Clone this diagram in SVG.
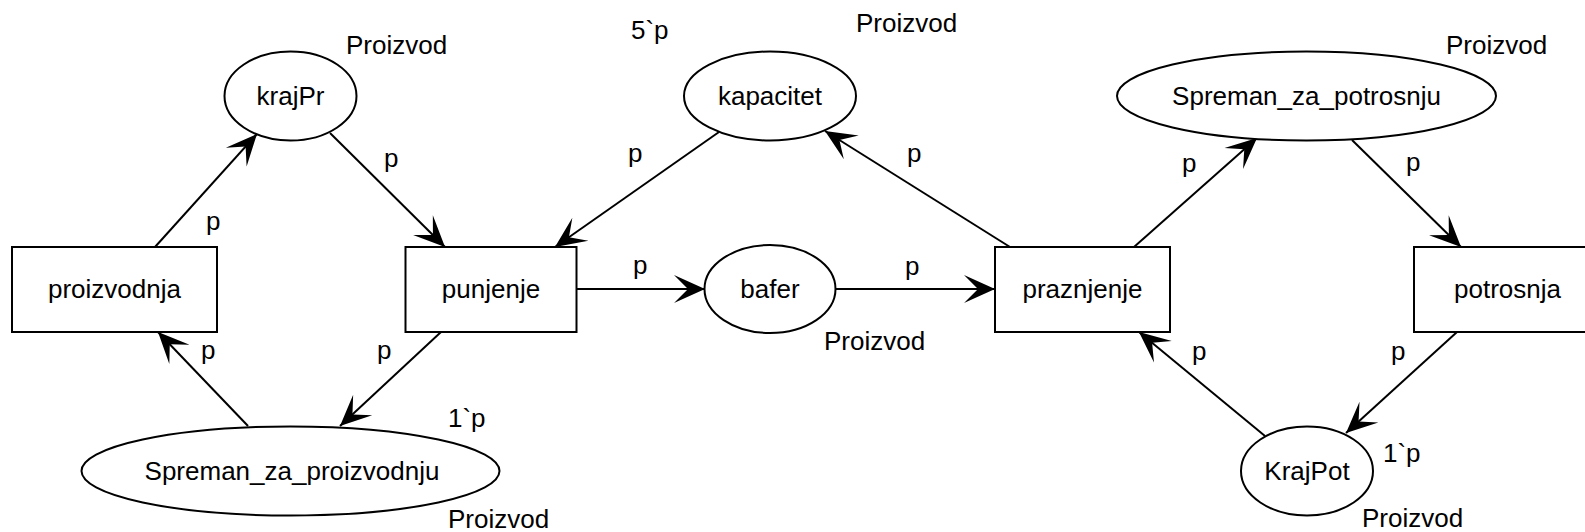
<svg xmlns="http://www.w3.org/2000/svg" width="1585" height="532" viewBox="0 0 1585 532">
<style>
text{font-family:"Liberation Sans",Arial,sans-serif;font-size:26px;fill:#000}
.c{text-anchor:middle}
.n{fill:#fff;stroke:#000;stroke-width:2}
.e{stroke:#000;stroke-width:2;fill:none;marker-end:url(#ah)}
</style>
<defs>
<marker id="ah" markerUnits="userSpaceOnUse" viewBox="-32 -15 33 30" markerWidth="33" markerHeight="30" refX="0" refY="0" orient="auto">
<path d="M0,0 L-31,-14 L-17,0 L-31,14 Z" fill="#000"/>
</marker>
</defs>
<rect width="1585" height="532" fill="#fff"/>
<g id="connectors">
<line class="e" x1="155" y1="247" x2="257" y2="134"/>
<line class="e" x1="330" y1="133" x2="445" y2="247"/>
<line class="e" x1="719" y1="132" x2="555" y2="247"/>
<line class="e" x1="1010" y1="247" x2="825" y2="131"/>
<line class="e" x1="576" y1="289" x2="705" y2="289"/>
<line class="e" x1="836" y1="289" x2="995" y2="289"/>
<line class="e" x1="1134" y1="247" x2="1257" y2="138"/>
<line class="e" x1="1352" y1="140" x2="1461" y2="247"/>
<line class="e" x1="248" y1="426" x2="158" y2="332"/>
<line class="e" x1="441" y1="332" x2="340" y2="426"/>
<line class="e" x1="1265" y1="436" x2="1139" y2="332"/>
<line class="e" x1="1457" y1="332" x2="1346" y2="433"/>
<text x="206" y="230">p</text>
<text x="384" y="167">p</text>
<text x="628" y="162">p</text>
<text x="907" y="162">p</text>
<text x="1182" y="172">p</text>
<text x="1406" y="171">p</text>
<text x="633" y="274">p</text>
<text x="905" y="275">p</text>
<text x="201" y="359">p</text>
<text x="377" y="359">p</text>
<text x="1192" y="360">p</text>
<text x="1391" y="360">p</text>
</g>
<g id="proizvodnja">
<rect class="n" x="12" y="247" width="205" height="85"/>
<text class="c" x="114.5" y="298">proizvodnja</text>
</g>
<g id="punjenje">
<rect class="n" x="405.5" y="247" width="171" height="85"/>
<text class="c" x="491" y="298">punjenje</text>
</g>
<g id="praznjenje">
<rect class="n" x="995" y="247" width="175" height="85"/>
<text class="c" x="1082.5" y="298">praznjenje</text>
</g>
<g id="potrosnja">
<rect class="n" x="1414" y="247" width="187" height="85"/>
<text class="c" x="1507.5" y="298">potrosnja</text>
</g>
<g id="krajPr">
<ellipse class="n" cx="290.5" cy="96" rx="66" ry="44.5"/>
<text class="c" x="290.5" y="105">krajPr</text>
<text x="346" y="54">Proizvod</text>
</g>
<g id="kapacitet">
<ellipse class="n" cx="770" cy="96" rx="86" ry="44.5"/>
<text class="c" x="770" y="105">kapacitet</text>
<text x="631" y="39">5`p</text>
<text x="856" y="32">Proizvod</text>
</g>
<g id="Spreman_za_potrosnju">
<ellipse class="n" cx="1306.5" cy="96" rx="189.5" ry="44.5"/>
<text class="c" x="1306.5" y="105">Spreman_za_potrosnju</text>
<text x="1446" y="54">Proizvod</text>
</g>
<g id="bafer">
<ellipse class="n" cx="770" cy="289" rx="65.5" ry="44"/>
<text class="c" x="770" y="298">bafer</text>
<text x="824" y="350">Proizvod</text>
</g>
<g id="Spreman_za_proizvodnju">
<ellipse class="n" cx="290.5" cy="471" rx="209" ry="44.5"/>
<text class="c" x="292" y="480">Spreman_za_proizvodnju</text>
<text x="448" y="427">1`p</text>
<text x="448" y="528">Proizvod</text>
</g>
<g id="KrajPot">
<ellipse class="n" cx="1307" cy="471" rx="66" ry="44.5"/>
<text class="c" x="1307" y="480">KrajPot</text>
<text x="1383" y="462">1`p</text>
<text x="1362" y="527">Proizvod</text>
</g>
</svg>
